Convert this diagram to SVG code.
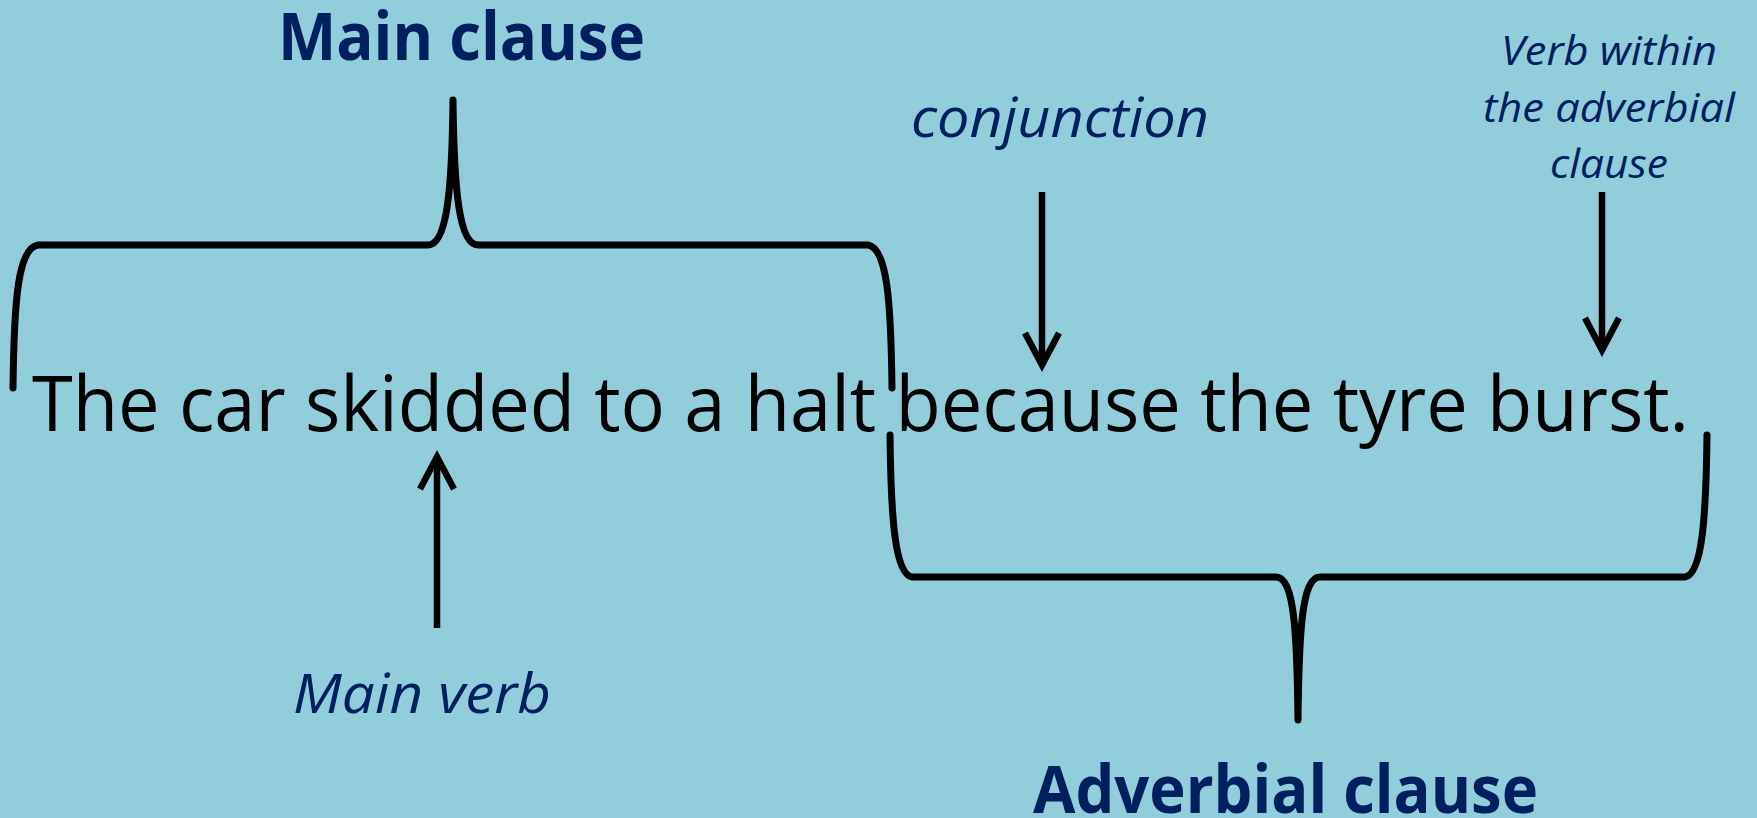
<svg xmlns="http://www.w3.org/2000/svg" width="1757" height="818" viewBox="0 0 1757 818">
<style>
.bg{fill:#92CDDC}
.brace{fill:none;stroke:#000;stroke-width:7;stroke-linejoin:round;stroke-linecap:round}
.arrow{fill:none;stroke:#000;stroke-width:6.5}
.title{font-family:"Open Sans","Liberation Sans",sans-serif;font-weight:bold;font-size:67px;fill:#002060}
.label{font-family:"Open Sans","Liberation Sans",sans-serif;font-style:italic;font-size:55px;fill:#002060}
.small{font-family:"Open Sans","Liberation Sans",sans-serif;font-style:italic;font-size:41px;fill:#002060}
.sentence{font-family:"Open Sans","Liberation Sans",sans-serif;font-size:76px;fill:#000}
</style>
<defs>
<marker id="head" markerUnits="userSpaceOnUse" viewBox="-36 -24 52 48" markerWidth="52" markerHeight="48" refX="0" refY="0" orient="auto" overflow="visible">
<path d="M-26,-17 L6,0 L-26,17" fill="none" stroke="#000" stroke-width="6.5" stroke-linejoin="miter" stroke-miterlimit="10"/>
</marker>
</defs>
<rect class="bg" x="0" y="0" width="1757" height="818"/>
<g id="sentence">
<text class="sentence" x="32" y="431" textLength="1657" lengthAdjust="spacingAndGlyphs">The car skidded to a halt because the tyre burst.</text>
</g>
<g id="main-clause">
<path class="brace" d="M13,388 C14,300 18,248 38,245 L428,245 C447,245 452,190 453,100 C454,190 459,245 478,245 L868,245 C887,248 891,300 892,388"/>
<text class="title" x="278" y="60" textLength="367" lengthAdjust="spacingAndGlyphs">Main clause</text>
</g>
<g id="adverbial-clause">
<path class="brace" d="M890,435 C891,520 895,574 912,577 L1276,577 C1294,577 1297,630 1298,720 C1299,630 1302,577 1320,577 L1685,577 C1702,574 1706,520 1707,435"/>
<text class="title" x="1033" y="813" textLength="505" lengthAdjust="spacingAndGlyphs">Adverbial clause</text>
</g>
<g id="main-verb">
<text class="label" x="293" y="713" textLength="258" lengthAdjust="spacingAndGlyphs">Main verb</text>
</g>
<g id="conjunction">
<text class="label" x="911" y="137" textLength="298" lengthAdjust="spacingAndGlyphs">conjunction</text>
</g>
<g id="verb-within">
<text class="small" x="1501" y="65" textLength="216" lengthAdjust="spacingAndGlyphs">Verb within</text>
<text class="small" x="1483" y="122" textLength="252" lengthAdjust="spacingAndGlyphs">the adverbial</text>
<text class="small" x="1550" y="178" textLength="118" lengthAdjust="spacingAndGlyphs">clause</text>
</g>
<g id="connectors">
<line class="arrow" x1="437" y1="628" x2="437" y2="463" marker-end="url(#head)"/>
<line class="arrow" x1="1042" y1="192" x2="1042" y2="359" marker-end="url(#head)"/>
<line class="arrow" x1="1602" y1="192" x2="1602" y2="344" marker-end="url(#head)"/>
</g>
</svg>
